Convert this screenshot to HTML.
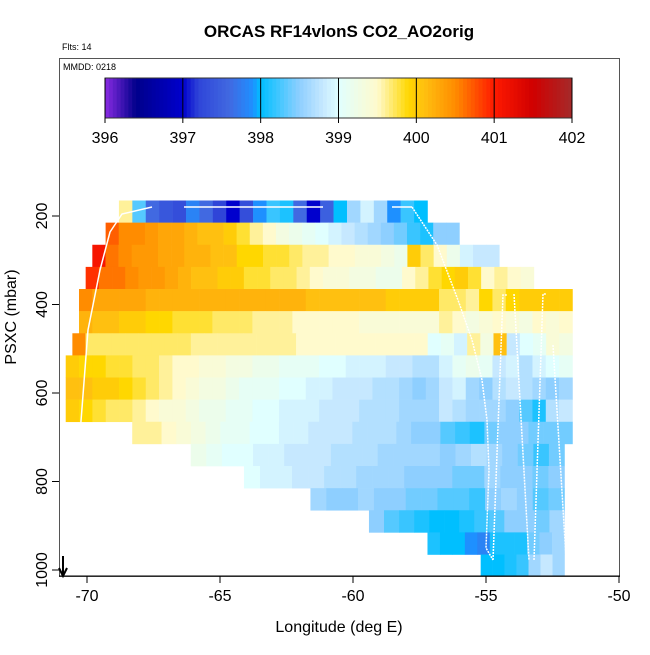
<!DOCTYPE html>
<html><head><meta charset="utf-8">
<style>
body{margin:0;background:#fff;}
svg text{font-family:"Liberation Sans",Arial,sans-serif;}
</style></head>
<body>
<svg id="chart" width="650" height="650" viewBox="0 0 650 650" xmlns="http://www.w3.org/2000/svg">
<rect width="650" height="650" fill="#fff"/>
<text x="339" y="37" text-anchor="middle" font-size="17" font-weight="bold">ORCAS RF14vlonS CO2_AO2orig</text>
<text x="62" y="50" font-size="9">Flts: 14</text>
<g id="cells"></g>
<g id="colorbar"></g>
<g id="track" fill="none" stroke="#fff" stroke-width="1.5"></g>
<rect x="59.5" y="58.5" width="560" height="518" fill="none" stroke="#555" stroke-width="1"/>
<text x="63" y="70" font-size="9">MMDD: 0218</text>
<g id="axes"></g>
<path d="M63 556 V575 M59 568 L63 576 L67 568" stroke="#000" stroke-width="2" fill="none"/>
<text x="339" y="632" text-anchor="middle" font-size="16">Longitude (deg E)</text>
<text transform="translate(16,317) rotate(-90)" text-anchor="middle" font-size="16">PSXC (mbar)</text>
</svg>
<script>
const levels=[190,240,290,340,390,440,490,540,590,640,690,740,790,840,890,940,990];
const rowStart=[-68.8,-69.3,-69.8,-70.05,-70.3,-70.3,-70.55,-70.8,-70.8,-70.8,-68.3,-66.1,-64.1,-61.6,-59.4,-57.2,-55.2];
const rowEnd=[-57.2,-56.0,-54.5,-53.2,-51.75,-51.75,-51.75,-51.75,-51.75,-51.75,-51.75,-52.05,-52.05,-52.05,-52.05,-52.05,-52.05];
const row0=[399.6,398.3,397.6,397.4,397.3,397.8,397.6,397.2,397.0,397.3,397.9,398.2,398.1,397.6,397.0,397.5,398.0,398.6,398.9,398.6,397.9,398.2,398.0];
const row1=[400.7,400.5,400.5,400.4,400.3,400.3,400.2,400.1,400.1,400.0,399.8,399.6,399.5,399.3,399.2,399.1,399.0,398.9,398.8,398.7,398.6,398.5,398.4,398.2,398.1,398.5,398.5];
const row2=[401.1,400.6,400.5,400.4,400.4,400.3,400.3,400.2,400.2,400.1,400.1,399.9,399.9,399.8,399.8,399.7,399.6,399.6,399.5,399.5,399.4,399.4,399.3,399.2,400.0,399.7,399.5,399.2,398.9,398.8,398.8];
const row3=[400.9,400.6,400.6,400.5,400.4,400.4,400.3,400.2,400.1,400.1,400.0,400.0,399.8,399.8,399.7,399.7,399.6,399.5,399.4,399.4,399.3,399.3,399.2,399.2,399.5,399.6,399.8,399.9,400.0,399.8,399.5,399.6,399.5,399.4];
const row4=[400.5,400.3,400.3,400.3,400.3,400.2,400.2,400.2,400.2,400.2,400.2,400.2,400.2,400.2,400.2,400.2,400.2,400.1,400.1,400.1,400.1,400.1,400.1,400.0,400.0,400.0,400.0,399.7,399.7,399.6,399.9,399.7,399.9,400.0,400.0,400.0,400.0];
const row5=[400.2,400.1,400.1,400.0,400.0,399.9,399.9,399.8,399.8,399.8,399.7,399.7,399.7,399.6,399.6,399.6,399.5,399.5,399.5,399.5,399.5,399.4,399.4,399.4,399.4,399.4,399.4,399.6,399.5,399.3,399.4,399.5,399.4,399.3,399.5,399.4,399.5];
const row6=[400.5,399.7,399.7,399.7,399.7,399.7,399.7,399.7,399.7,399.6,399.6,399.6,399.6,399.6,399.6,399.6,399.6,399.5,399.5,399.5,399.5,399.5,399.5,399.5,399.5,399.5,399.5,399.0,399.1,398.9,399.6,399.3,400.1,398.8,399.0,399.1,399.4,399.3];
const row7=[400.0,399.9,399.9,399.8,399.8,399.7,399.7,399.6,399.5,399.5,399.4,399.4,399.3,399.3,399.2,399.2,399.1,399.1,399.1,399.0,399.0,398.9,398.9,398.9,398.8,398.8,398.7,398.7,398.9,399.1,399.2,399.1,398.8,398.9,398.7,398.9,399.0,399.1];
const row8=[400.1,400.1,400.0,400.0,399.9,399.8,399.7,399.6,399.5,399.4,399.3,399.3,399.2,399.1,399.1,399.1,399.0,399.0,398.9,398.9,398.8,398.8,398.8,398.7,398.7,398.6,398.5,398.6,398.8,398.9,398.6,398.5,398.7,398.8,398.7,398.6,398.5,398.6];
const row9=[400.0,399.9,399.8,399.7,399.7,399.6,399.5,399.4,399.4,399.3,399.2,399.2,399.1,399.1,399.0,399.0,398.9,398.9,398.9,398.8,398.8,398.8,398.7,398.7,398.7,398.6,398.6,398.6,398.8,398.7,398.6,398.6,398.6,398.5,398.3,398.1,398.7,398.8];
const row10=[399.6,399.6,399.5,399.4,399.3,399.2,399.1,399.1,399.0,399.0,398.9,398.9,398.8,398.8,398.8,398.7,398.7,398.7,398.6,398.5,398.5,398.3,398.2,398.1,398.4,398.5,398.5,398.4,398.4,398.4];
const row11=[399.2,399.1,399.0,399.0,398.9,398.9,398.8,398.8,398.8,398.7,398.7,398.7,398.6,398.6,398.6,398.6,398.5,398.6,398.7,398.6,398.5,398.4,398.2,398.4];
const row12=[399.0,398.9,398.9,398.8,398.8,398.7,398.7,398.6,398.6,398.6,398.5,398.5,398.5,398.4,398.4,398.6,398.5,398.5,398.4,398.5];
const row13=[398.6,398.5,398.5,398.6,398.5,398.5,398.4,398.4,398.3,398.3,398.2,398.5,398.6,398.5,398.3,398.4];
const row14=[398.5,398.3,398.2,398.1,398.0,398.0,398.1,398.2,398.3,398.5,398.5,398.4,398.6];
const row15=[398.1,398.0,398.0,397.9,397.8,398.1,398.1,398.1,398.4,398.5,398.6];
const row16=[398.0,398.0,398.1,398.2,398.6,398.8,398.6];
const rows=[row0,row1,row2,row3,row4,row5,row6,row7,row8,row9,row10,row11,row12,row13,row14,row15,row16];
const levelH=50;
const cbTicks=[396,397,398,399,400,401,402];
const stops=[[396,'#8a2be2'],[396.4,'#00008b'],[397,'#0000cd'],[397.2,'#2f45d8'],[397.6,'#4169e1'],[397.9,'#1e90ff'],[398,'#00bfff'],[398.5,'#8ecfff'],[398.8,'#c6e8ff'],[399,'#e0ffff'],[399.5,'#fffacd'],[399.9,'#ffd700'],[400.1,'#ffc010'],[400.5,'#ff8c00'],[401,'#ff1a00'],[401.5,'#d00000'],[402,'#a52a2a']];
const xTicks=[-70,-65,-60,-55,-50];
const yTicks=[200,400,600,800,1000];

const NS='http://www.w3.org/2000/svg';
const X=lon=>619-(-50-lon)*26.6;
const Y=p=>216+0.4425*(p-200);
function hex(h){return [1,3,5].map(i=>parseInt(h.substr(i,2),16));}
function color(v){
  if(v<=stops[0][0])return stops[0][1];
  for(let i=1;i<stops.length;i++){
    if(v<=stops[i][0]){const a=hex(stops[i-1][1]),b=hex(stops[i][1]);const t=(v-stops[i-1][0])/(stops[i][0]-stops[i-1][0]);
      return 'rgb('+a.map((c,k)=>Math.round(c+(b[k]-c)*t)).join(',')+')';}
  }
  return stops[stops.length-1][1];
}
function mk(tag,attrs,parent){const e=document.createElementNS(NS,tag);for(const k in attrs)e.setAttribute(k,attrs[k]);parent.appendChild(e);return e;}
const gc=document.getElementById('cells');
rows.forEach((r,i)=>{
  const y0=Y(levels[i]-levelH/2),y1=Y(levels[i]+levelH/2);
  const w=(rowEnd[i]-rowStart[i])/r.length;
  r.forEach((v,j)=>{
    const l=rowStart[i]+j*w;
    const x0=X(l),x1=X(l+w);
    const e=mk('rect',{x:x0,y:y0,width:x1-x0+0.3,height:y1-y0+0.3,fill:color(v)},gc);
    
    
  });
});
const cb=document.getElementById('colorbar');
const CX=v=>105+(v-396)/6*467;
for(let v=396;v<402;v+=0.05){
  const e=mk('rect',{x:CX(v),y:78,width:467/120+0.5,height:40,fill:color(v+0.025)},cb);
  
  
}
mk('rect',{x:105,y:78,width:467,height:40,fill:'none',stroke:'#333'},cb);
cbTicks.forEach(t=>{
  const x=CX(t);
  mk('line',{x1:x,x2:x,y1:78,y2:123,stroke:'#000'},cb);
  const tx=mk('text',{x:x,y:143,'text-anchor':'middle','font-size':'16'},cb);tx.textContent=t;
  
  
});
const ax=document.getElementById('axes');
xTicks.forEach(t=>{const x=X(t);mk('line',{x1:x,x2:x,y1:576,y2:583,stroke:'#000'},ax);
  const tx=mk('text',{x:x,y:601,'text-anchor':'middle','font-size':'16'},ax);tx.textContent=t;
  
  });
yTicks.forEach(t=>{const y=Y(t);mk('line',{x1:52,x2:59,y1:y,y2:y,stroke:'#000'},ax);
  const tx=mk('text',{x:0,y:0,'text-anchor':'middle','font-size':'16',transform:'translate(47,'+y+') rotate(-90)'},ax);tx.textContent=t;
  
  });
mk('line',{x1:59,x2:620,y1:576,y2:576,stroke:'#000'},ax);
const tr=document.getElementById('track');
const paths=[
 ['M67 592 L78 460 L88 330 L100 270 L110 232 L122 214 L152 207',''],
 ['M184 207 H323 M392 207 H412',''],
 ['M412 207 L437 245 L458 300 L472 340 L482 380 L487 420 L489 470 L486 548 L493 560','2,1'],
 ['M493 560 L503 295 H507 M514 294 L529 560','2,1'],
 ['M534 560 L543 294 H546 M553 345 L566 557 M571 557 L578 294','2,1']
];
paths.forEach(p=>{const e=mk('path',{d:p[0]},tr);if(p[1])e.setAttribute('stroke-dasharray',p[1]);
  
  });
</script>
</body></html>
